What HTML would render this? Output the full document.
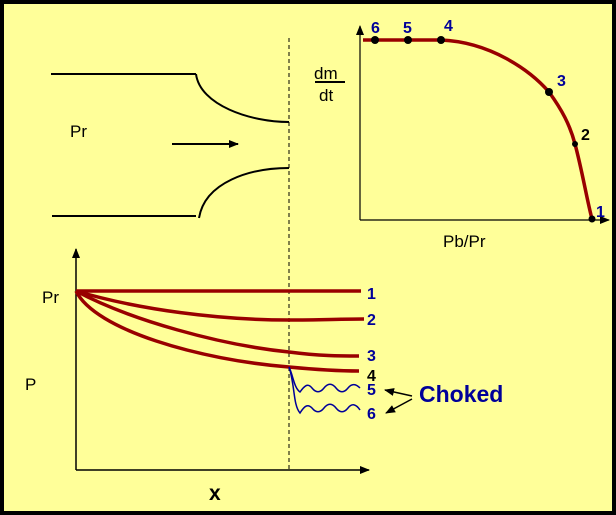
<!DOCTYPE html>
<html><head><style>
html,body{margin:0;padding:0;}
body{width:616px;height:515px;overflow:hidden;}
svg{display:block;font-family:"Liberation Sans",sans-serif;}
</style></head><body>
<svg width="616" height="515" viewBox="0 0 616 515">
<defs>
<marker id="a" markerWidth="10" markerHeight="8" refX="9" refY="4" orient="auto" markerUnits="userSpaceOnUse"><path d="M0,0 L10,4 L0,8 Z" fill="#000"/></marker>
</defs>
<rect x="2" y="2" width="612" height="511" fill="#ffff99" stroke="#000" stroke-width="4"/>
<g stroke="#000" stroke-width="2" fill="none">
<path d="M51,74 H196"/>
<path d="M196,74 C200,105 250,122 289,122"/>
<path d="M52,216 H196"/>
<path d="M199,218 C205,182 250,168 289,168"/>
<path d="M172,144 H238" marker-end="url(#a)"/>
</g>
<line x1="289" y1="38" x2="289" y2="472" stroke="#000" stroke-width="1" stroke-dasharray="4,3"/>
<text x="70" y="137" font-size="17">Pr</text>
<g stroke="#000" stroke-width="1.2" fill="none">
<path d="M360,220 V26" marker-end="url(#a)"/>
<path d="M360,220 H609" marker-end="url(#a)"/>
</g>
<path d="M363,40 L441,40 C490,42 530,70 549,92 C562,110 570,125 575,144 C582,170 587,200 592,219" stroke="#990000" stroke-width="3.5" fill="none"/>
<g fill="#000">
<circle cx="375" cy="40" r="4"/><circle cx="408" cy="40" r="4"/><circle cx="441" cy="40" r="4"/>
<circle cx="549" cy="92" r="4"/><circle cx="575" cy="144" r="3"/><circle cx="592" cy="219" r="3.5"/>
</g>
<g font-size="16" font-weight="bold" fill="#000099">
<text x="371" y="33">6</text><text x="403" y="33">5</text><text x="444" y="31">4</text>
<text x="557" y="86">3</text><text x="596" y="217">1</text>
</g>
<text x="581" y="140" font-size="16" font-weight="bold" fill="#000">2</text>
<text x="314" y="79" font-size="17">dm</text>
<line x1="315" y1="82" x2="345" y2="82" stroke="#000" stroke-width="2"/>
<text x="319" y="101" font-size="17">dt</text>
<text x="443" y="247" font-size="17">Pb/Pr</text>
<g stroke="#000" stroke-width="1.5" fill="none">
<path d="M76,470 V249" marker-end="url(#a)"/>
<path d="M76,470 H369" marker-end="url(#a)"/>
</g>
<g stroke="#990000" stroke-width="3.5" fill="none">
<path d="M76,291 H361"/>
<path d="M76,291 C140,310 220,320 289,320 C320,320 340,319 364,319"/>
<path d="M76,291 C130,320 220,345 289,352 C320,356 340,356 359,356"/>
<path d="M76,291 C95,330 200,360 289,367 C320,370 340,371 359,371"/>
</g>
<g stroke="#000099" stroke-width="1.5" fill="none">
<path d="M289,367 C293,375 294,388 300,392 C305,385 308,383 312,388 C316,393 320,393 324,388 C328,383 332,383 336,388 C340,393 344,393 348,388 C352,383 356,384 360,388"/>
<path d="M289,367 C295,385 293,405 300,413 C305,405 308,404 312,408 C316,413 320,413 324,408 C328,403 332,403 336,408 C340,413 344,413 348,408 C352,403 356,404 360,410"/>
</g>
<g font-size="16" font-weight="bold" fill="#000099">
<text x="367" y="299">1</text><text x="367" y="325">2</text><text x="367" y="361">3</text>
<text x="367" y="395">5</text><text x="367" y="419">6</text>
</g>
<text x="367" y="381" font-size="16" font-weight="bold" fill="#000">4</text>
<text x="419" y="402" font-size="23" font-weight="bold" fill="#000099">Choked</text>
<g stroke="#000" stroke-width="1.5" fill="none">
<path d="M412,396 L385,390" marker-end="url(#a)"/>
<path d="M412,399 L386,413" marker-end="url(#a)"/>
</g>
<text x="42" y="303" font-size="17">Pr</text>
<text x="25" y="390" font-size="17">P</text>
<text x="209" y="500" font-size="21" font-weight="bold">x</text>
</svg>
</body></html>
